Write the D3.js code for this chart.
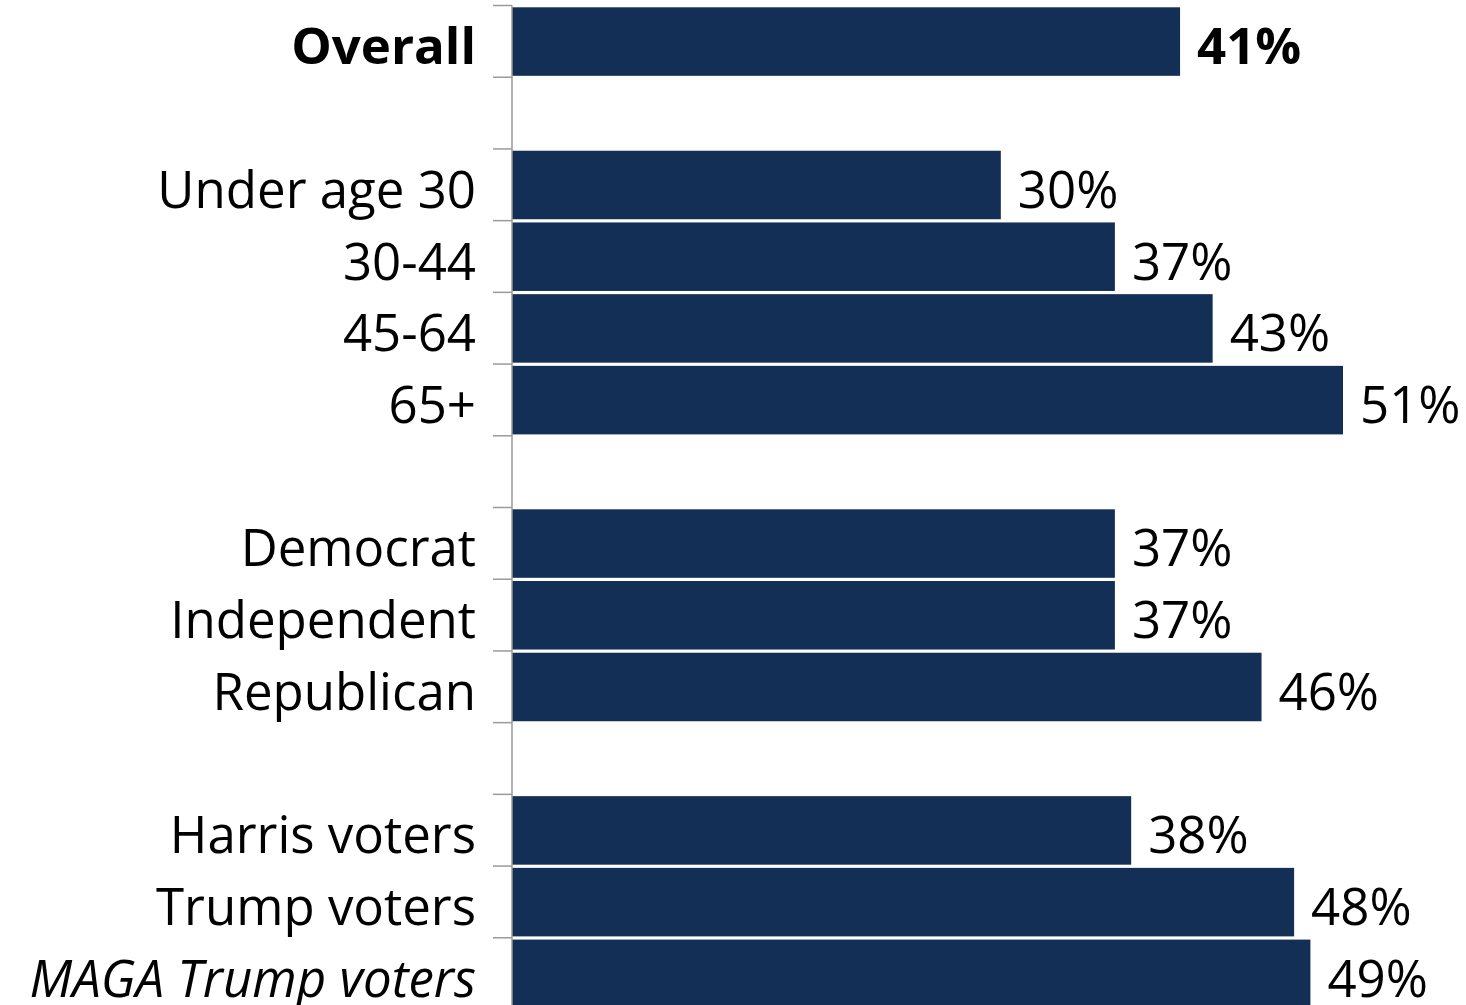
<!DOCTYPE html>
<html><head><meta charset="utf-8">
<script src="https://cdn.jsdelivr.net/npm/d3@7"></script>
<style>body{margin:0;background:#fff}svg{display:block}</style>
</head><body>
<svg id="c" width="1466" height="1005"></svg>
<script>
const categories = ["Overall","", "Under age 30","30-44","45-64","65+","", "Democrat","Independent","Republican","", "Harris voters","Trump voters","MAGA Trump voters"];
const values = [41,null,30,37,43,51,null,37,37,46,null,38,48,49];
const boldCats = ["Overall"];
const italicCats = ["MAGA Trump voters"];

const rowKeys = categories.map((c,i)=>i);
const svg = d3.select("#c");
const x = d3.scaleLinear().domain([0,51]).range([512,1343]);
const yb = d3.scaleBand().domain(rowKeys).range([5.5,1009.5]);

const font = "'Open Sans', 'Noto Sans', sans-serif";
const fs = 51;

// bars
svg.append("g").selectAll("rect").data(rowKeys.filter(i=>values[i]!=null)).join("rect")
  .attr("x", x(0)).attr("y", i=>yb(i)+1.8)
  .attr("width", i=>x(values[i])-x(0)).attr("height", yb.bandwidth()-3.2)
  .attr("fill","#142f55");

// axis line and ticks
const g = svg.append("g");
g.append("line").attr("x1",512).attr("x2",512).attr("y1",5.5).attr("y2",1005).attr("stroke","#9a9a9a").attr("stroke-width",1.5);
const ticks = rowKeys.map(i=>yb(i));
g.selectAll("line.t").data(ticks).join("line").attr("class","t")
  .attr("x1",493).attr("x2",512).attr("y1",d=>d).attr("y2",d=>d)
  .attr("stroke","#9a9a9a").attr("stroke-width",1.5);

// category labels
svg.append("g").selectAll("text").data(rowKeys.filter(i=>categories[i]!=="")).join("text")
  .attr("x",476).attr("y",i=>yb(i)+yb.bandwidth()/2+3)
  .attr("text-anchor","end").attr("dominant-baseline","central")
  .attr("font-family",font).attr("font-size",fs)
  .attr("font-weight",i=>boldCats.includes(categories[i])?700:400)
  .attr("font-style",i=>italicCats.includes(categories[i])?"italic":"normal")
  .attr("fill","#000").text(i=>categories[i]);

// value labels
svg.append("g").selectAll("text").data(rowKeys.filter(i=>values[i]!=null)).join("text")
  .attr("x",i=>x(values[i])+17).attr("y",i=>yb(i)+yb.bandwidth()/2+3)
  .attr("dominant-baseline","central")
  .attr("font-family",font).attr("font-size",fs)
  .attr("font-weight",i=>boldCats.includes(categories[i])?700:400)
  .attr("fill","#000").text(i=>values[i]+"%");
</script>
</body></html>
